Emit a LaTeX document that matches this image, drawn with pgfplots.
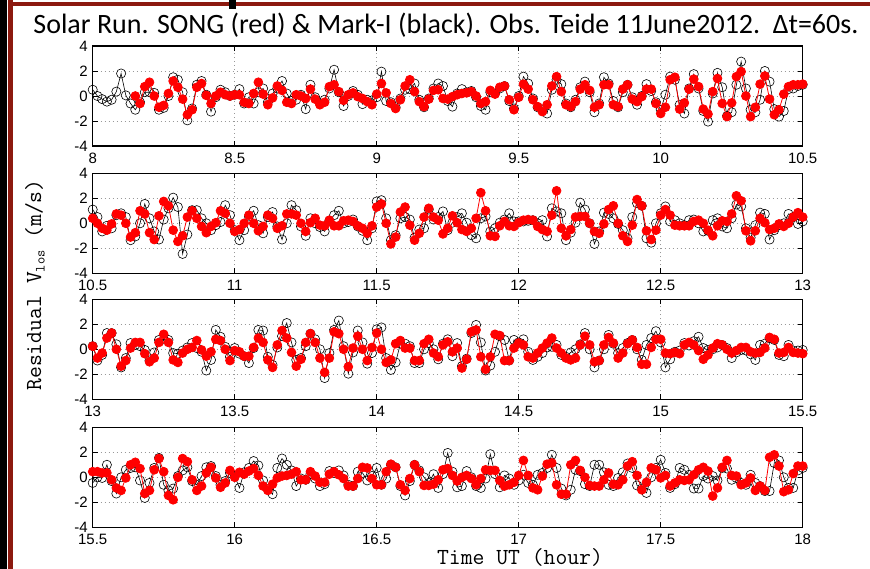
\documentclass[border=0pt]{standalone}
\usepackage{pgfplots}
\pgfplotsset{compat=1.18}
\usepackage{pgfplotstable}
\usepackage{fontspec}
\setmainfont{Liberation Sans}
\newfontfamily\titlefont{Carlito}
\definecolor{borderred}{RGB}{140,25,15}

\pgfplotstableread[row sep=\\]{b r\\
0.5 nan\\ 0.0 nan\\ -0.25 nan\\ -0.45 nan\\ -0.3 nan\\ 0.35 nan\\ 1.8 nan\\ 0.05 nan\\ -0.6 nan\\ -1.1 0.0\\
-0.5 -0.6\\ 0.3 0.75\\ 0.3 1.1\\ 0.25 0.0\\ -1.1 -0.9\\ -0.95 -0.75\\ 0.0 0.2\\ 1.5 1.2\\ 1.3 0.7\\ 0.3 -0.25\\
-1.95 -1.5\\ -1.0 -1.1\\ 0.9 0.7\\ 1.2 1.0\\ 0.1 0.05\\ -1.25 -0.6\\ -0.1 0.0\\ 0.5 0.3\\ 0.3 0.1\\ 0.0 0.0\\
0.1 0.1\\ 0.55 0.1\\ -0.6 -0.5\\ -0.1 -0.6\\ -0.6 0.2\\ 0.3 1.1\\ 0.6 0.15\\ -0.5 -0.7\\ 0.2 -0.15\\ 0.6 0.8\\
1.2 0.45\\ 0.2 -0.5\\ -0.4 -0.6\\ -0.3 0.1\\ 0.1 0.0\\ -1.05 -0.2\\ 0.9 0.55\\ -0.1 -0.25\\ -0.6 -0.7\\ -0.3 -0.5\\
0.6 0.75\\ 2.1 0.9\\ 0.3 0.35\\ -0.8 -0.35\\ 0.0 0.1\\ 0.4 0.25\\ 0.1 -0.05\\ -0.65 -0.2\\ -0.3 -0.45\\ -0.35 -0.7\\
-0.1 0.15\\ 1.95 1.0\\ -0.4 0.25\\ -0.5 -0.6\\ -0.9 -1.0\\ -0.2 -0.3\\ 0.5 0.8\\ 0.55 1.3\\ 1.0 0.35\\ -0.3 -0.45\\
-0.9 -0.85\\ -0.2 -0.25\\ 0.6 0.45\\ 1.0 0.5\\ 0.8 -0.2\\ -0.4 -0.25\\ -0.85 -0.05\\ 0.2 0.1\\ 0.55 0.2\\ 0.3 0.25\\
0.4 0.35\\ -0.1 0.0\\ -0.8 -0.6\\ -1.1 -0.45\\ 0.3 0.45\\ 0.2 0.15\\ 0.6 0.7\\ 0.8 0.8\\ -0.4 -0.3\\ -1.0 -1.1\\
0.0 -0.1\\ 1.55 0.95\\ 1.0 0.55\\ -0.2 -0.3\\ -0.9 -0.85\\ -1.1 -1.25\\ -1.4 -0.7\\ 0.5 0.8\\ 1.3 1.55\\ 0.95 0.35\\
-0.6 -0.7\\ -0.9 -0.85\\ -0.3 -0.45\\ 0.7 0.55\\ 1.15 0.9\\ 0.3 0.45\\ -1.3 -0.9\\ -0.6 -0.7\\ 1.5 0.9\\ 1.0 0.9\\
-0.4 -0.7\\ -0.9 -0.85\\ 0.3 0.55\\ 0.9 0.9\\ -0.1 -0.25\\ -0.7 -0.45\\ 0.0 -0.05\\ 0.95 0.55\\ 0.4 0.55\\ -0.5 -0.6\\
-1.1 -1.4\\ 0.1 -0.9\\ 1.55 1.3\\ 1.3 1.5\\ -0.7 -1.05\\ -1.4 -0.55\\ 0.6 0.55\\ 1.75 1.35\\ 0.6 0.75\\ -1.2 -1.05\\
-2.05 -1.45\\ 0.2 0.35\\ 1.85 1.4\\ 0.7 -0.6\\ -1.6 -1.65\\ -1.3 -0.55\\ 0.9 1.55\\ 2.75 1.95\\ 0.6 0.0\\ -1.1 -1.65\\
-1.3 -0.9\\ -0.3 0.95\\ 2.0 1.6\\ 1.15 -0.25\\ -1.05 -1.5\\ -1.65 -1.1\\ -1.2 0.15\\ 0.55 0.75\\ 0.6 0.9\\ 0.8 0.9\\
0.9 0.95\\
}\tA

\pgfplotstableread[row sep=\\]{b r\\
1.1 0.4\\ 0.5 0.0\\ -0.65 -0.4\\ -0.2 -0.55\\ -0.4 -0.05\\ 0.65 0.75\\ 0.8 0.65\\ 0.5 0.0\\ -1.35 -1.1\\ -1.05 -0.75\\
0.0 1.0\\ 1.55 0.75\\ 0.4 -0.75\\ -0.65 -1.3\\ -1.3 0.6\\ 0.3 1.75\\ 1.2 1.4\\ 2.05 -0.55\\ 1.3 -1.45\\ -2.45 -1.0\\
-0.9 0.5\\ 1.05 1.0\\ 1.05 0.4\\ 0.4 -0.25\\ 0.0 -0.75\\ -0.55 -0.25\\ -0.15 0.05\\ 0.1 1.0\\ 1.45 0.8\\ 0.65 0.0\\
-0.55 -0.65\\ -1.35 -0.5\\ -0.55 0.0\\ 0.55 0.65\\ 1.0 0.0\\ -0.15 -0.6\\ -0.8 -0.25\\ 0.5 0.65\\ 0.9 0.4\\ -0.25 -0.4\\
-1.3 -0.2\\ 0.0 0.75\\ 1.45 0.75\\ 1.05 0.65\\ -0.25 0.0\\ -1.0 -0.65\\ 0.4 0.05\\ 0.0 0.4\\ -0.3 -0.15\\ -0.65 -0.2\\
0.2 0.25\\ 0.65 -0.2\\ 1.0 -0.2\\ 0.0 0.2\\ 0.1 0.25\\ 0.3 0.15\\ -0.25 -0.2\\ -0.6 -0.4\\ -1.35 -0.8\\ -0.4 -0.2\\
1.75 1.3\\ 1.85 1.55\\ 0.4 0.0\\ -1.35 -1.65\\ -0.95 -1.1\\ 0.4 0.9\\ 0.5 1.3\\ 0.3 -0.15\\ -1.15 -1.35\\ -0.5 -0.8\\
-0.4 0.5\\ 1.1 1.2\\ 0.3 0.5\\ 0.5 0.25\\ 0.95 -0.85\\ -0.55 -0.4\\ 0.05 0.6\\ 0.5 0.05\\ 0.8 -0.5\\ 0.05 -0.65\\
-0.95 -0.4\\ -1.2 0.4\\ 0.4 2.45\\ 0.55 1.0\\ -0.65 -1.0\\ -0.4 -1.05\\ 0.05 -0.2\\ 0.3 0.15\\ 0.8 -0.2\\ 0.15 -0.25\\
0.15 0.05\\ 0.15 0.25\\ 0.2 0.3\\ 0.25 0.25\\ 0.0 -0.25\\ 0.25 -0.5\\ -1.05 -0.65\\ 1.2 0.65\\ 0.95 2.6\\ 0.8 -0.4\\
-1.35 -1.0\\ -0.75 -0.5\\ 0.05 0.5\\ 1.65 0.55\\ 1.1 0.55\\ 0.0 0.0\\ -1.65 -0.65\\ -0.65 -0.8\\ 0.85 -0.05\\ 0.75 1.1\\
0.4 1.4\\ -0.05 0.0\\ -0.55 -1.0\\ -1.2 -1.45\\ 0.5 -0.15\\ 1.6 1.9\\ 1.4 1.4\\ -1.2 -0.6\\ -1.55 -1.3\\ 0.0 -0.55\\
0.8 0.65\\ 1.35 1.1\\ 0.15 0.65\\ 0.25 -0.15\\ 0.0 -0.2\\ -0.15 -0.2\\ 0.25 -0.2\\ 0.3 0.15\\ 0.0 0.25\\ -0.65 0.0\\
-0.6 -0.55\\ 0.25 -1.0\\ 0.4 -0.2\\ -0.25 0.2\\ -0.4 0.15\\ 0.4 0.75\\ 1.5 2.2\\ 1.35 1.8\\ -0.4 -0.6\\ -1.15 -1.4\\
-0.15 -0.6\\ 0.85 0.4\\ 0.75 0.05\\ -1.3 -0.5\\ -0.55 -0.4\\ -0.15 -0.05\\ 0.0 -0.25\\ 0.75 0.0\\ 0.5 0.5\\ -0.05 0.85\\
0.15 0.5\\
}\tB

\pgfplotstableread[row sep=\\]{b r\\
0.25 0.25\\ -0.9 -0.7\\ -0.45 -0.3\\ 1.3 0.9\\ 1.3 1.3\\ 0.4 0.0\\ -1.45 -1.35\\ -0.7 -0.9\\ 0.5 0.1\\ 0.35 0.55\\
0.25 0.55\\ -0.05 -0.35\\ -0.9 -1.0\\ -0.25 -0.7\\ 0.75 0.55\\ 0.8 1.2\\ 0.75 0.55\\ -0.3 -0.85\\ -0.35 -1.05\\ -0.1 -0.3\\
0.15 0.0\\ 0.5 0.15\\ 0.1 0.7\\ -0.2 -0.05\\ -1.7 -0.55\\ -0.85 -0.2\\ 1.55 0.8\\ 1.0 0.7\\ 0.2 0.0\\ -0.6 -0.9\\
0.1 -0.1\\ -0.35 -0.2\\ -0.55 -0.55\\ -1.1 -0.55\\ 0.1 0.15\\ 1.55 0.9\\ 1.5 0.55\\ -0.6 -0.85\\ -1.25 -1.45\\ 0.15 0.35\\
1.05 1.5\\ 2.1 0.9\\ 0.55 -0.25\\ -0.85 -1.35\\ -0.7 -0.8\\ 0.25 0.55\\ 1.25 1.25\\ 0.8 0.55\\ 0.0 -0.7\\ -2.3 -1.85\\
-0.3 -0.7\\ 1.55 1.4\\ 2.3 1.25\\ 0.25 0.0\\ -1.95 -1.4\\ -0.25 0.1\\ 1.5 1.05\\ 0.55 0.0\\ -1.15 -0.9\\ -0.3 0.15\\
1.6 1.3\\ 1.75 0.0\\ -0.7 -1.05\\ -1.65 -0.85\\ -1.05 0.45\\ 0.45 0.7\\ 0.45 0.1\\ 0.25 0.1\\ -1.1 -0.9\\ -1.1 -0.9\\
0.0 0.45\\ 0.5 0.8\\ 0.0 -0.3\\ -0.8 -0.6\\ 0.45 0.35\\ 0.8 0.6\\ -0.55 -0.2\\ 0.5 0.1\\ -1.35 -1.5\\ -0.75 -0.8\\
1.3 1.4\\ 1.95 1.55\\ 0.55 -0.6\\ -1.7 -1.6\\ -1.3 -0.6\\ -0.2 1.2\\ 1.05 1.1\\ 0.75 -0.9\\ -0.9 -0.9\\ 0.75 0.1\\
0.55 0.5\\ 0.8 0.35\\ -0.2 -0.6\\ -0.85 -0.7\\ -0.6 -0.3\\ -0.3 0.1\\ 0.15 0.5\\ 0.2 0.9\\ 0.35 0.1\\ -0.45 -0.3\\
-0.6 -0.7\\ -0.25 -0.85\\ 0.0 -0.7\\ 0.4 0.35\\ 1.3 1.05\\ 0.0 0.35\\ -1.45 -1.0\\ -0.9 -0.9\\ 0.0 0.35\\ 1.15 0.95\\
0.45 0.5\\ -0.3 -0.7\\ 0.1 -0.3\\ 0.5 0.45\\ 0.75 0.75\\ 0.0 0.15\\ -0.85 -1.2\\ 0.35 -1.2\\ 0.9 0.15\\ 1.45 0.8\\
0.55 0.8\\ -1.45 -0.3\\ -0.8 -0.35\\ -0.2 -0.25\\ -0.1 -0.35\\ 0.5 0.35\\ 0.3 0.55\\ 0.65 0.35\\ 1.0 -0.1\\ 0.1 -0.8\\
-0.05 -0.45\\ 0.0 0.1\\ 0.15 0.45\\ 0.35 0.35\\ 0.1 0.0\\ -0.7 -0.3\\ -0.25 -0.1\\ -0.05 0.15\\ -0.1 0.15\\ -0.4 -0.2\\
-0.85 -0.3\\ 0.35 -0.25\\ 0.45 0.1\\ 0.9 0.95\\ 0.75 0.8\\ -0.45 -0.3\\ -0.55 -0.25\\ 0.35 0.15\\ -0.1 -0.25\\ -0.1 -0.3\\
-0.05 -0.35\\
}\tC

\pgfplotstableread[row sep=\\]{b r\\
-0.45 0.45\\ 0.0 0.45\\ -0.05 0.35\\ 1.0 0.35\\ -0.3 -0.2\\ -1.3 -0.85\\ 0.0 -1.05\\ 0.6 -0.05\\ 0.75 1.0\\ 0.8 1.2\\
-0.25 0.7\\ -1.65 -1.3\\ -0.45 -1.05\\ 0.75 0.6\\ 1.55 1.5\\ -0.6 0.45\\ -1.05 -1.45\\ -0.9 -1.8\\ 0.1 0.0\\ 0.55 1.5\\
0.8 1.25\\ -0.3 -0.2\\ -0.6 -1.05\\ 0.1 -0.7\\ 0.8 0.35\\ 0.9 0.8\\ 0.1 -0.05\\ -0.6 -0.8\\ -0.3 -0.45\\ 0.35 0.55\\
0.1 0.0\\ -0.85 0.4\\ 0.4 0.25\\ 0.75 0.5\\ 1.3 0.7\\ 0.95 0.15\\ -0.25 -0.7\\ -0.95 -1.05\\ -1.35 -0.55\\ 0.75 -0.05\\
1.5 0.1\\ 1.0 0.15\\ 0.55 0.25\\ -0.7 0.45\\ -0.1 -0.2\\ -0.2 -0.2\\ 0.25 0.45\\ -0.1 0.1\\ -0.7 -0.4\\ -0.55 -0.4\\
0.5 0.25\\ 0.35 0.45\\ 0.55 0.2\\ 0.15 -0.1\\ -0.6 -0.7\\ -0.7 -0.7\\ 0.45 -0.1\\ 0.35 0.8\\ -0.25 0.75\\ 0.1 -0.1\\
0.75 -0.6\\ -0.6 -0.6\\ -0.1 0.45\\ 1.0 1.05\\ 0.8 0.8\\ -0.7 -0.6\\ -1.45 -1.05\\ -0.3 -0.1\\ 1.0 1.0\\ 0.55 0.45\\
0.0 -0.65\\ -0.45 -0.65\\ 0.25 -0.55\\ -0.85 -0.2\\ 0.25 0.6\\ 1.95 0.7\\ 0.45 0.15\\ -0.8 -0.3\\ -0.7 0.0\\ 0.5 0.15\\
0.0 -0.1\\ -0.7 -0.6\\ -0.85 -0.1\\ -0.1 0.6\\ 1.85 0.55\\ 0.25 0.55\\ -0.8 -0.25\\ 0.15 -0.7\\ -0.1 -0.6\\ -0.6 -0.4\\
-0.25 0.15\\ 0.2 1.35\\ -0.45 0.15\\ -0.6 -0.85\\ 0.2 -1.0\\ 0.35 0.1\\ 0.75 1.05\\ 1.8 1.15\\ 0.75 -0.6\\ -0.9 -1.35\\
-1.45 -1.35\\ -1.0 1.0\\ 0.6 1.35\\ 0.5 0.55\\ -0.55 0.0\\ -0.7 -0.65\\ 1.0 -0.7\\ 1.0 -0.7\\ 0.4 -0.2\\ -0.6 0.35\\
-0.7 -0.55\\ -0.05 -0.6\\ 0.4 -0.2\\ 1.1 0.9\\ 0.75 1.25\\ -0.65 0.15\\ -0.9 -1.0\\ -1.25 -0.4\\ 0.0 0.75\\ 0.75 0.6\\
1.4 -0.05\\ 0.35 0.15\\ -0.85 -0.7\\ -0.55 -0.45\\ 0.75 -0.2\\ 0.6 -0.25\\ 0.2 -0.2\\ -0.9 0.2\\ -0.9 0.6\\ 0.1 0.8\\
-0.1 0.5\\ 0.1 -1.5\\ -0.25 -0.85\\ 0.75 0.8\\ 0.7 1.35\\ -0.2 0.15\\ -0.05 0.1\\ -0.45 -0.6\\ -0.6 -0.45\\ 0.2 -0.05\\
-0.45 -1.05\\ -0.7 -0.7\\ -1.1 -1.05\\ -1.1 1.6\\ 1.15 1.8\\ 1.35 0.9\\ 0.0 -1.15\\ -0.85 -1.0\\ -0.85 0.3\\ 0.55 0.9\\
0.75 0.9\\
}\tD

\pgfplotsset{
  panel/.style={
    scale only axis, width=710pt, height=100pt,
    anchor=north west,
    ymin=-4, ymax=4, ytick={-4,-2,0,2,4},
    xmajorgrids, ymajorgrids,
    major grid style={gray!80, line width=0.5pt, dash pattern=on 1pt off 3pt},
    axis line style={line width=1.3pt},
    tick style={line width=0.6pt, black},
    major tick length=5pt,
    tick label style={font=\fontsize{15}{15}\selectfont, inner sep=1pt},
    xticklabel style={yshift=-5.8pt},
    yticklabel style={xshift=-3.8pt},
    /pgf/number format/assume math mode=true,
    clip mode=individual,
  },
  blk/.style={black, line width=0.6pt, mark=o, mark size=4.6pt, mark options={line width=0.6pt}},
  rd/.style={red, line width=0.8pt, mark=*, mark size=4.4pt, mark options={fill=red, draw=red}},
}

\begin{document}
\begin{tikzpicture}
\path[use as bounding box] (0pt,0pt) rectangle (870pt,-569pt);
\fill[black] (0pt,0pt) rectangle (7pt,-569pt);
\fill[borderred] (8pt,0pt) rectangle (13pt,-569pt);
\fill[borderred] (8pt,-2.5pt) rectangle (870pt,-6.5pt);
\fill[black] (229pt,0pt) rectangle (236pt,-9pt);

\node[font=\titlefont\fontsize{28}{28}\selectfont] at (446pt,-25pt) {Solar Run. SONG (red) \& Mark-I (black). Obs. Teide 11June2012.\ \ Δt=60s.};

\begin{axis}[panel, at={(92.7pt,-46pt)}, xmin=8, xmax=10.5, xtick={8,8.5,9,9.5,10,10.5}]
\addplot[blk] table[x expr=8+\coordindex/60, y=b] {\tA};
\addplot[rd] table[x expr=8+\coordindex/60, y=r] {\tA};
\end{axis}

\begin{axis}[panel, at={(92.7pt,-173.3pt)}, xmin=10.5, xmax=13, xtick={10.5,11,11.5,12,12.5,13}]
\addplot[blk] table[x expr=10.5+\coordindex/60, y=b] {\tB};
\addplot[rd] table[x expr=10.5+\coordindex/60, y=r] {\tB};
\end{axis}

\begin{axis}[panel, at={(92.7pt,-299.3pt)}, xmin=13, xmax=15.5, xtick={13,13.5,14,14.5,15,15.5}]
\addplot[blk] table[x expr=13+\coordindex/60, y=b] {\tC};
\addplot[rd] table[x expr=13+\coordindex/60, y=r] {\tC};
\end{axis}

\begin{axis}[panel, at={(92.7pt,-427.3pt)}, xmin=15.5, xmax=18, xtick={15.5,16,16.5,17,17.5,18}]
\addplot[blk] table[x expr=15.5+\coordindex/60, y=b] {\tD};
\addplot[rd] table[x expr=15.5+\coordindex/60, y=r] {\tD};
\end{axis}

\node[rotate=90, font=\ttfamily\fontsize{23}{23}\selectfont] at (35pt,-285pt) {Residual V\raisebox{-0.35ex}{\fontsize{14}{14}\selectfont los}\ (m/s)};
\node[font=\ttfamily\fontsize{23}{23}\selectfont] at (520pt,-557pt) {Time UT (hour)};
\end{tikzpicture}
\end{document}
